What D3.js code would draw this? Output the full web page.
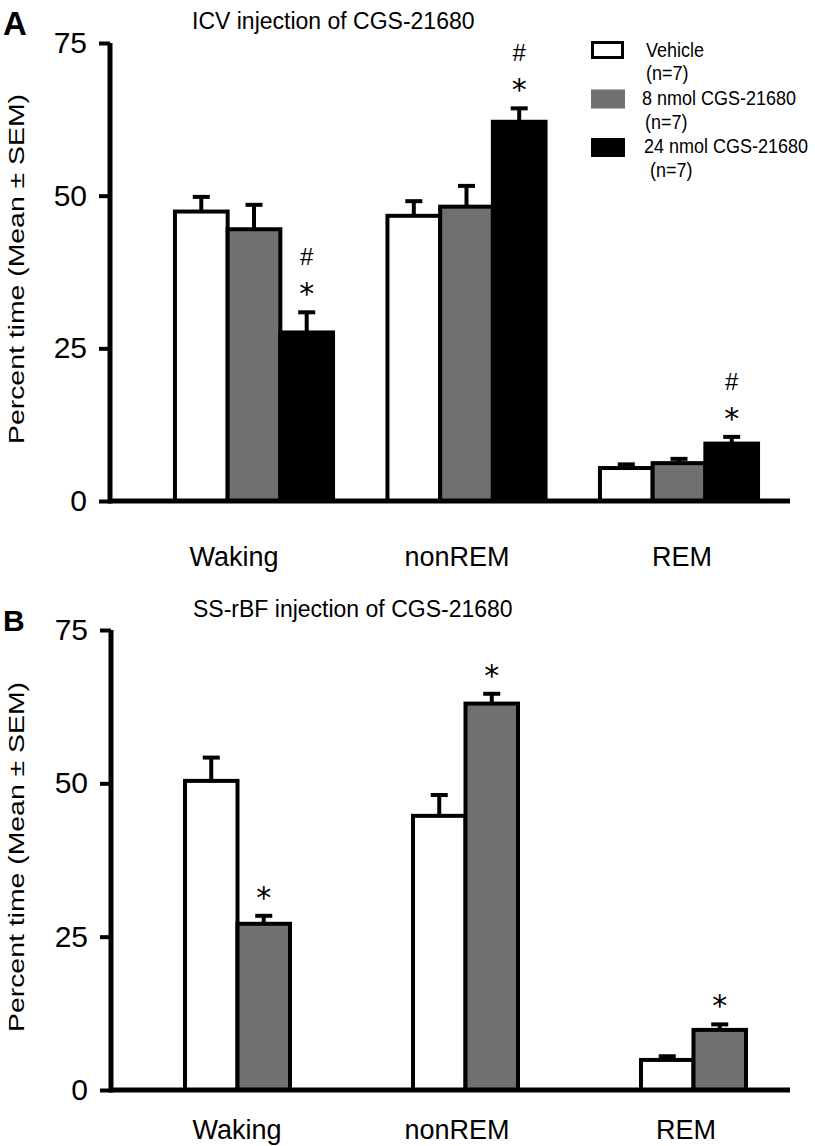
<!DOCTYPE html>
<html><head><meta charset="utf-8">
<script src="https://cdn.jsdelivr.net/npm/d3@7"></script>
<style>body{margin:0;background:#fff}svg{display:block}text{font-family:"Liberation Sans",Arial,sans-serif;fill:#000}</style>
</head><body>
<script>
// ---------- data ----------
const categories = ["Waking", "nonREM", "REM"];
const yTicks = [0, 25, 50, 75];

const seriesA = ["Vehicle", "8 nmol CGS-21680", "24 nmol CGS-21680"];
const legendNA = ["(n=7)", "(n=7)", "(n=7)"];
const meanA_vehicle = [47.4, 46.7, 5.4];
const meanA_8nmol   = [44.5, 48.2, 6.2];
const meanA_24nmol  = [27.6, 62.1, 9.4];
const semA_vehicle  = [2.4, 2.4, 0.6];
const semA_8nmol    = [4.0, 3.4, 0.7];
const semA_24nmol   = [3.3, 2.2, 1.1];
const sigA_24nmol   = ["*#", "*#", "*#"];

const seriesB = ["Vehicle", "CGS-21680"];
const meanB_vehicle = [50.4, 44.7, 4.9];
const meanB_drug    = [27.1, 63.0, 9.8];
const semB_vehicle  = [3.8, 3.4, 0.6];
const semB_drug     = [1.3, 1.6, 0.9];
const sigB_drug     = ["*", "*", "*"];

const titleA = "ICV injection of CGS-21680";
const titleB = "SS-rBF injection of CGS-21680";
const yTitle = "Percent time (Mean \u00b1 SEM)";

// ---------- drawing ----------
const W = 815, H = 1146;
const svg = d3.select("body").append("svg").attr("width", W).attr("height", H);
const fills = ["#ffffff", "#707070", "#000000"];

function panel(o) {
  const g = svg.append("g");
  const y = d3.scaleLinear().domain([0, 75]).range([o.y0, o.y75]);
  const x0 = d3.scaleBand().domain(categories).range(o.xRange).paddingInner(0).paddingOuter(0);
  const groupW = o.barStep * o.series.length;
  const x1 = d3.scaleBand().domain(o.series).range([0, groupW]);

  o.series.forEach((s, si) => {
    const fill = fills[o.fillIdx[si]];
    categories.forEach((c, ci) => {
      const v = o.means[si][ci], e = o.sems[si][ci];
      const bx = x0(c) + x0.bandwidth() / 2 - groupW / 2 + x1(s);
      g.append("rect").attr("x", bx).attr("y", y(v)).attr("width", x1.bandwidth())
        .attr("height", y(0) - y(v)).attr("fill", fill).attr("stroke", "#000").attr("stroke-width", 4);
      const cx = bx + x1.bandwidth() / 2;
      g.append("line").attr("x1", cx).attr("x2", cx).attr("y1", y(v)).attr("y2", y(v + e))
        .attr("stroke", "#000").attr("stroke-width", 4);
      g.append("line").attr("x1", cx - 8.5).attr("x2", cx + 8.5).attr("y1", y(v + e)).attr("y2", y(v + e))
        .attr("stroke", "#000").attr("stroke-width", 4);
      const sig = o.sig[si] ? o.sig[si][ci] : "";
      if (sig.includes("*")) {
        g.append("text").attr("x", cx).attr("y", y(v + e) - 25 + 17).attr("text-anchor", "middle")
          .style("font-family", '"DejaVu Sans",sans-serif').style("font-size", "30px").text("*");
      }
      if (sig.includes("#")) {
        g.append("text").attr("x", cx).attr("y", y(v + e) - 55 + 8).attr("text-anchor", "middle")
          .style("font-size", "24px").text("#");
      }
    });
  });

  g.append("line").attr("x1", o.axisX).attr("x2", 790).attr("y1", y(0)).attr("y2", y(0))
    .attr("stroke", "#000").attr("stroke-width", 5);
  const ax = g.append("g").attr("transform", `translate(${o.axisX},0)`)
    .call(d3.axisLeft(y).tickValues(yTicks).tickFormat(d3.format("d")).tickSize(11).tickPadding(12));
  ax.select(".domain").attr("stroke", "#000").attr("stroke-width", 5).attr("d", `M0,${y(0) + 2.5}V${y(75)}`);
  ax.selectAll(".tick line").attr("stroke", "#000").attr("stroke-width", 4);
  ax.selectAll(".tick text").style("font-size", "30px").style("font-family", '"Liberation Sans",Arial,sans-serif').attr("fill", "#000");

  categories.forEach((c, i) => {
    g.append("text").attr("x", o.labelX[i]).attr("y", o.labelY).attr("text-anchor", "middle")
      .style("font-size", "27px").text(c);
  });
  g.append("text").attr("x", o.titleX).attr("y", o.titleY).style("font-size", "23px").text(o.title);
  g.append("text").attr("x", 3).attr("y", o.letterY).style("font-size", o.letterSize)
    .style("font-weight", "bold").text(o.letter);
  g.append("text").attr("transform", `translate(${o.yTitleX},${(y(0) + y(75)) / 2 - 3}) rotate(-90)`)
    .attr("text-anchor", "middle").style("font-size", "22px")
    .attr("textLength", 350).attr("lengthAdjust", "spacingAndGlyphs").text(yTitle);
}

panel({
  series: seriesA, fillIdx: [0, 1, 2],
  means: [meanA_vehicle, meanA_8nmol, meanA_24nmol],
  sems: [semA_vehicle, semA_8nmol, semA_24nmol],
  sig: [null, null, sigA_24nmol],
  y0: 501, y75: 43, xRange: [147.75, 785.25], barStep: 52.7, axisX: 110,
  labelX: [234, 457, 682], labelY: 566,
  title: titleA, titleX: 192, titleY: 29, letter: "A", letterY: 35, letterSize: "33px", yTitleX: 24
});

panel({
  series: seriesB, fillIdx: [0, 1],
  means: [meanB_vehicle, meanB_drug],
  sems: [semB_vehicle, semB_drug],
  sig: [null, sigB_drug],
  y0: 1090, y75: 630, xRange: [123.5, 807.5], barStep: 52.5, axisX: 111,
  labelX: [237, 457, 686], labelY: 1139,
  title: titleB, titleX: 193, titleY: 617, letter: "B", letterY: 631, letterSize: "30px", yTitleX: 24
});

// legend (panel A)
const leg = svg.append("g");
const legLineX = [646, 642, 644];
const legNX = [646, 645, 650];
seriesA.forEach((s, i) => {
  const top = 41 + i * 48.5;
  if (i === 0) {
    leg.append("rect").attr("x", 592.5).attr("y", top + 1.5).attr("width", 30).attr("height", 15)
      .attr("fill", "#fff").attr("stroke", "#000").attr("stroke-width", 3);
  } else {
    leg.append("rect").attr("x", 591).attr("y", top).attr("width", 34).attr("height", 19)
      .attr("fill", fills[i]);
  }
  leg.append("text").attr("transform", `translate(${legLineX[i]},${57 + i * 48}) scale(1,1.12)`)
    .style("font-size", "18px").text(s);
  leg.append("text").attr("transform", `translate(${legNX[i]},${80 + i * 48.5}) scale(1,1.12)`)
    .style("font-size", "18px").text(legendNA[i]);
});
</script>
</body></html>
